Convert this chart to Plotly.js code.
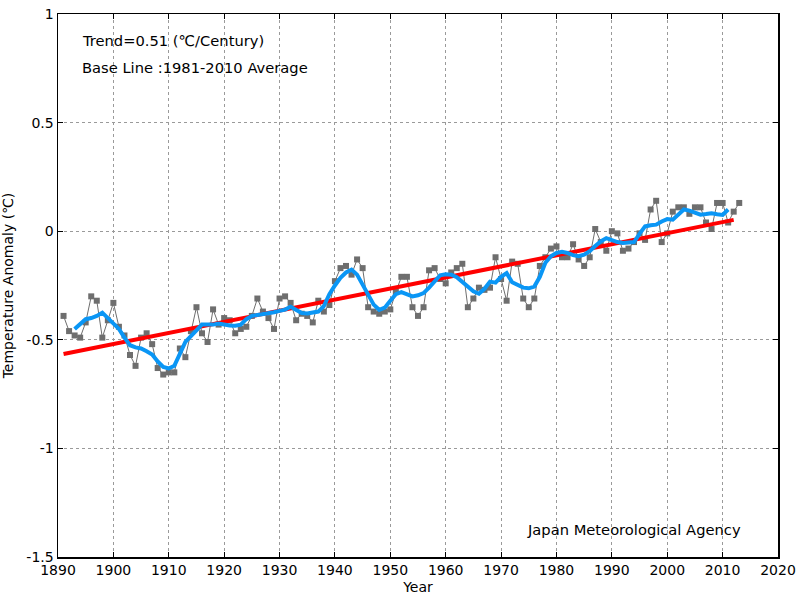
<!DOCTYPE html>
<html>
<head>
<meta charset="utf-8">
<script src="https://cdn.plot.ly/plotly-3.0.1.min.js"></script>
<style>html,body{margin:0;padding:0;background:#fff;}#chart{width:800px;height:600px;}</style>
</head>
<body>
<div id="chart"></div>
<script>
var years = [1891,1892,1893,1894,1895,1896,1897,1898,1899,1900,
1901,1902,1903,1904,1905,1906,1907,1908,1909,1910,
1911,1912,1913,1914,1915,1916,1917,1918,1919,1920,
1921,1922,1923,1924,1925,1926,1927,1928,1929,1930,
1931,1932,1933,1934,1935,1936,1937,1938,1939,1940,
1941,1942,1943,1944,1945,1946,1947,1948,1949,1950,
1951,1952,1953,1954,1955,1956,1957,1958,1959,1960,
1961,1962,1963,1964,1965,1966,1967,1968,1969,1970,
1971,1972,1973,1974,1975,1976,1977,1978,1979,1980,
1981,1982,1983,1984,1985,1986,1987,1988,1989,1990,
1991,1992,1993,1994,1995,1996,1997,1998,1999,2000,
2001,2002,2003,2004,2005,2006,2007,2008,2009,2010,
2011,2012,2013];

var annualAnomaly = [-0.39,-0.46,-0.48,-0.49,-0.42,-0.30,-0.32,-0.49,-0.41,-0.33,
-0.44,-0.48,-0.57,-0.62,-0.49,-0.47,-0.52,-0.63,-0.66,-0.65,
-0.65,-0.54,-0.58,-0.46,-0.35,-0.47,-0.51,-0.36,-0.43,-0.40,
-0.41,-0.47,-0.45,-0.44,-0.39,-0.31,-0.37,-0.40,-0.45,-0.31,
-0.30,-0.33,-0.41,-0.38,-0.39,-0.42,-0.32,-0.37,-0.34,-0.23,
-0.17,-0.16,-0.20,-0.13,-0.17,-0.35,-0.37,-0.38,-0.37,-0.36,
-0.28,-0.21,-0.21,-0.35,-0.39,-0.35,-0.18,-0.17,-0.22,-0.24,
-0.19,-0.17,-0.15,-0.35,-0.31,-0.26,-0.27,-0.26,-0.12,-0.22,
-0.32,-0.14,-0.15,-0.31,-0.35,-0.31,-0.16,-0.12,-0.08,-0.07,
-0.12,-0.12,-0.06,-0.13,-0.16,-0.12,0.01,-0.05,-0.09,0.00,
-0.01,-0.09,-0.08,-0.05,-0.01,-0.04,0.10,0.14,-0.05,-0.01,
0.09,0.11,0.11,0.08,0.11,0.11,0.04,0.01,0.13,0.13,
0.04,0.09,0.13];

var runningMeanYears = years.slice(2, 121);
var runningMean = [-0.45,-0.43,-0.405,-0.40,-0.39,-0.375,-0.40,-0.43,-0.45,-0.49,
-0.525,-0.535,-0.54,-0.553,-0.568,-0.60,-0.625,-0.632,-0.62,-0.565,
-0.51,-0.483,-0.455,-0.43,-0.43,-0.43,-0.425,-0.43,-0.434,-0.435,
-0.43,-0.405,-0.39,-0.386,-0.383,-0.378,-0.373,-0.367,-0.361,-0.348,
-0.36,-0.377,-0.379,-0.376,-0.37,-0.345,-0.29,-0.25,-0.215,-0.19,
-0.177,-0.2,-0.245,-0.295,-0.338,-0.362,-0.352,-0.32,-0.29,-0.281,
-0.29,-0.3,-0.295,-0.285,-0.26,-0.228,-0.203,-0.198,-0.2,-0.212,
-0.235,-0.258,-0.277,-0.288,-0.265,-0.232,-0.237,-0.21,-0.193,-0.235,
-0.25,-0.26,-0.263,-0.255,-0.21,-0.145,-0.115,-0.1,-0.095,-0.1,
-0.11,-0.115,-0.108,-0.092,-0.068,-0.047,-0.032,-0.042,-0.05,-0.054,
-0.053,-0.05,-0.012,0.022,0.027,0.03,0.045,0.056,0.053,0.075,
0.1,0.095,0.085,0.076,0.079,0.083,0.078,0.075,0.1];

var trendYears = [1891, 2012];
var trendValues = [-0.565, 0.052];

var xTickVals = [1890,1900,1910,1920,1930,1940,1950,1960,1970,1980,1990,2000,2010,2020];
var yTickVals = [-1.5,-1,-0.5,0,0.5,1];
var yTickText = ['-1.5','-1','-0.5','0','0.5','1'];

var FONT = 'DejaVu Sans, Noto Sans CJK JP, sans-serif';

var traces = [
  {x: years, y: annualAnomaly, type: 'scatter', mode: 'lines+markers',
   line: {color: '#6e6e6e', width: 1},
   marker: {symbol: 'square', size: 6, color: '#6e6e6e'},
   hoverinfo: 'skip', showlegend: false},
  {x: trendYears, y: trendValues, type: 'scatter', mode: 'lines',
   line: {color: '#ff0000', width: 4}, showlegend: false},
  {x: runningMeanYears, y: runningMean, type: 'scatter', mode: 'lines',
   line: {color: '#0a96f5', width: 4, shape: 'linear'}, showlegend: false}
];

var axisCommon = {
  showline: true, linecolor: '#000', linewidth: 1.5, mirror: 'ticks',
  ticks: 'inside', ticklen: 5, tickcolor: '#000', tickwidth: 1,
  showgrid: true, gridcolor: '#9a9a9a', gridwidth: 1, griddash: 'dot',
  zeroline: false, tickfont: {family: FONT, size: 14, color: '#000'}
};

var layout = {
  width: 800, height: 600,
  margin: {l: 58, r: 22, t: 14, b: 43},
  paper_bgcolor: '#fff', plot_bgcolor: '#fff',
  font: {family: FONT, color: '#000'},
  xaxis: Object.assign({}, axisCommon, {
    range: [1890, 2020], tickvals: xTickVals, ticktext: xTickVals.map(String),
    title: {text: 'Year', font: {family: FONT, size: 14}, standoff: 5}
  }),
  yaxis: Object.assign({}, axisCommon, {
    range: [-1.5, 1], tickvals: yTickVals, ticktext: yTickText,
    title: {text: 'Temperature Anomaly (℃)', font: {family: FONT, size: 14}, standoff: 9}
  }),
  annotations: [
    {xref: 'paper', yref: 'paper', x: 0.031, y: 0.952, xanchor: 'left', yanchor: 'middle',
     text: 'Trend=0.51 (℃/Century)', showarrow: false, font: {family: FONT, size: 14.7, color: '#000'}},
    {xref: 'paper', yref: 'paper', x: 0.031, y: 0.902, xanchor: 'left', yanchor: 'middle',
     text: 'Base Line :1981-2010 Average', showarrow: false, font: {family: FONT, size: 14.7, color: '#000'}},
    {xref: 'paper', yref: 'paper', x: 0.951, y: 0.05, xanchor: 'right', yanchor: 'middle',
     text: 'Japan Meteorological Agency', showarrow: false, font: {family: FONT, size: 14.7, color: '#000'}}
  ]
};

Plotly.newPlot('chart', traces, layout, {displayModeBar: false, staticPlot: true});
</script>
</body>
</html>
